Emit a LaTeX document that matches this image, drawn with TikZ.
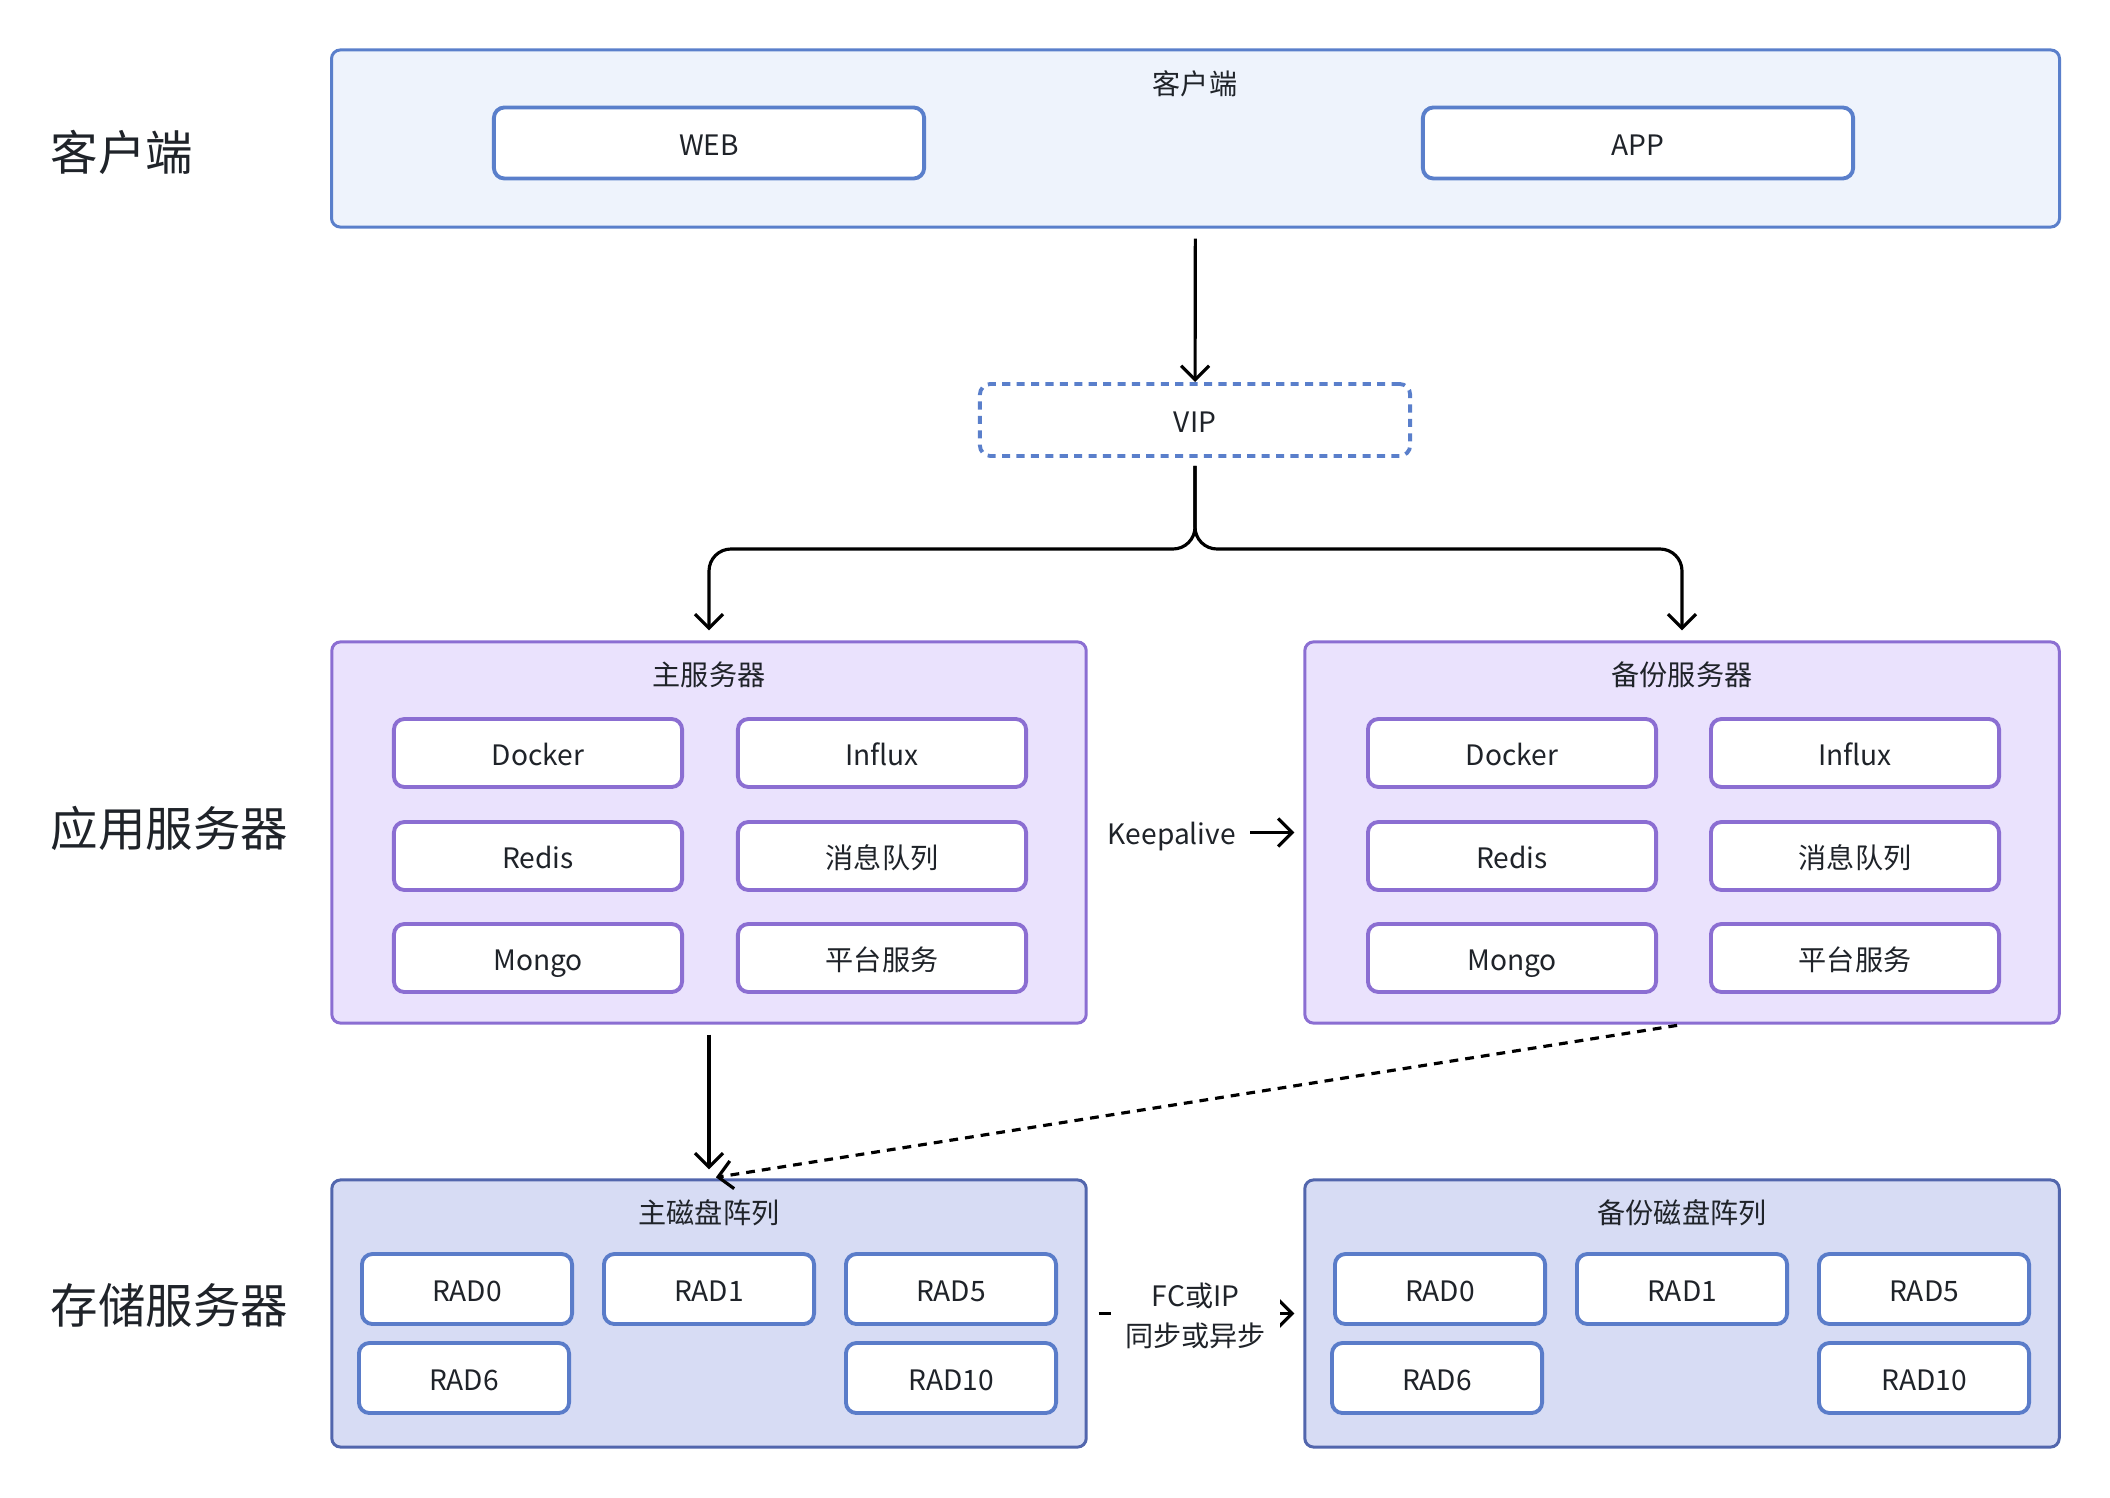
\documentclass[tikz,border=0pt]{standalone}
\usepackage{fontspec}
\setmainfont{Noto Sans CJK SC}
\usepackage{tikz}
\usetikzlibrary{arrows.meta,positioning}
\definecolor{txt}{HTML}{1F2329}
\definecolor{cliFill}{HTML}{EEF3FC}
\definecolor{cliLine}{HTML}{5A7FCB}
\definecolor{srvFill}{HTML}{EAE2FD}
\definecolor{srvLine}{HTML}{8B6ED2}
\definecolor{dskFill}{HTML}{D7DCF4}
\definecolor{dskLine}{HTML}{5266AD}
\definecolor{radLine}{HTML}{5A7CC9}
\newcommand{\boxfont}{\fontsize{8}{11.4}\selectfont}
\newcommand{\layerfont}{\fontsize{13.5}{16}\selectfont}

\begin{document}
\begin{tikzpicture}[x=0.01cm,y=-0.01cm,
  every node/.style={text=txt,font=\boxfont},
  line/.style={text height=7.2pt,text depth=0.2pt},
  group/.style={draw,rounded corners=2.5pt,line width=0.85pt},
  clibox/.style={group,fill=cliFill,draw=cliLine,minimum width=17.27cm,minimum height=1.77cm},
  srvbox/.style={group,fill=srvFill,draw=srvLine,minimum width=7.54cm,minimum height=3.81cm},
  dskbox/.style={group,fill=dskFill,draw=dskLine,minimum width=7.54cm,minimum height=2.67cm},
  item/.style={line,draw,fill=white,rounded corners=3pt,line width=1.1pt},
  cliitem/.style={item,draw=cliLine,minimum width=4.30cm,minimum height=0.71cm},
  srvitem/.style={item,draw=srvLine,minimum width=2.88cm,minimum height=0.68cm},
  raditem/.style={item,draw=radLine,minimum width=2.10cm,minimum height=0.70cm},
  title/.style={line},
  layer/.style={anchor=west,inner sep=0pt,font=\layerfont},
  >={Straight Barb[length=0.14cm,width=0.28cm]},
  arrow/.style={->,line width=0.9pt,black},
  gap/.style={fill=white,inner xsep=0.14cm,inner ysep=0.05cm,align=center}]
\useasboundingbox (0,0) rectangle (2110,1498);

\node[layer] (L1) at (50,152) {客户端};
\node[layer] (L2) at (50,828) {应用服务器};
\node[layer] (L3) at (50,1305) {存储服务器};

\node[clibox] (cli) at (1195.5,138.5) {};
\node[title] (cliT) at (1195,82) {客户端};
\node[cliitem] (web) at (709,143) {WEB};
\node[cliitem] (app) at (1638,143) {APP};

\node[line,draw=cliLine,dashed,dash pattern=on 2.3pt off 1.8pt,line width=1.1pt,rounded corners=3pt,
  minimum width=4.30cm,minimum height=0.72cm] (vip) at (1195,420) {VIP};

\node[srvbox] (msrv) at (709,832.5) {};
\node[title] (msrvT) at (709,673) {主服务器};
\node[srvitem] (mdocker) at (538,753) {Docker};
\node[srvitem] (minflux) at (882,753) {Influx};
\node[srvitem] (mredis) at (538,856) {Redis};
\node[srvitem] (mmq) at (882,856) {消息队列};
\node[srvitem] (mmongo) at (538,958) {Mongo};
\node[srvitem] (mplat) at (882,958) {平台服务};

\node[srvbox] (bsrv) at (1682,832.5) {};
\node[title] (bsrvT) at (1682,673) {备份服务器};
\node[srvitem] (bdocker) at (1512,753) {Docker};
\node[srvitem] (binflux) at (1855,753) {Influx};
\node[srvitem] (bredis) at (1512,856) {Redis};
\node[srvitem] (bmq) at (1855,856) {消息队列};
\node[srvitem] (bmongo) at (1512,958) {Mongo};
\node[srvitem] (bplat) at (1855,958) {平台服务};

\node[dskbox] (mdsk) at (709,1313.5) {};
\node[title] (mdskT) at (709,1211) {主磁盘阵列};
\node[raditem] (mr0) at (467,1289) {RAD0};
\node[raditem] (mr1) at (709,1289) {RAD1};
\node[raditem] (mr5) at (951,1289) {RAD5};
\node[raditem] (mr6) at (464,1378) {RAD6};
\node[raditem] (mr10) at (951,1378) {RAD10};

\node[dskbox] (bdsk) at (1682,1313.5) {};
\node[title] (bdskT) at (1682,1211) {备份磁盘阵列};
\node[raditem] (br0) at (1440,1289) {RAD0};
\node[raditem] (br1) at (1682,1289) {RAD1};
\node[raditem] (br5) at (1924,1289) {RAD5};
\node[raditem] (br6) at (1437,1378) {RAD6};
\node[raditem] (br10) at (1924,1378) {RAD10};

\coordinate (split) at (1195,549);
\draw[arrow,shorten <=0.1cm] (cli) -- (vip);
\draw[arrow,rounded corners=0.22cm,shorten <=0.08cm,shorten >=0.1cm] (vip) -- (split) -| (msrv);
\draw[arrow,rounded corners=0.22cm,shorten <=0.08cm,shorten >=0.1cm] (vip) -- (split) -| (bsrv);
\draw[arrow,shorten <=0.1cm,shorten >=0.09cm] (msrv) -- (mdsk);
\draw[arrow,dashed,dash pattern=on 2.5pt off 2pt,shorten <=0.05cm,shorten >=0.07cm] (bsrv.south) -- (mdsk.north);
\path[arrow,shorten <=0.11cm,shorten >=0.09cm]
  (msrv) edge node[gap,line,pos=0.39]{Keepalive} (bsrv)
  (mdsk) edge node[gap,pos=0.5,yshift=-0.02cm]{FC或IP\\同步或异步} (bdsk);
\end{tikzpicture}
\end{document}
